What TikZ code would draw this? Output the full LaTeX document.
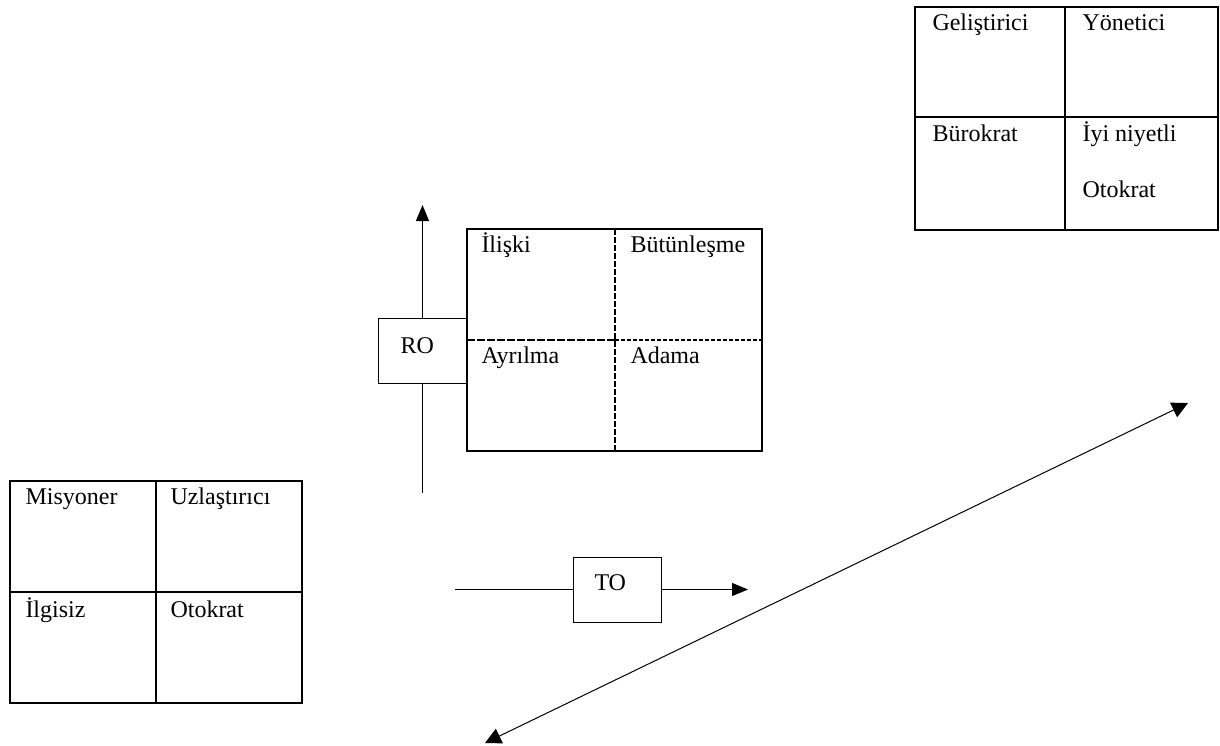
\documentclass[tikz,border=0pt]{standalone}
\usepackage{fontspec}
\setmainfont{Liberation Serif}
\usetikzlibrary{arrows.meta}

\tikzset{
  cell/.style={anchor=base west,inner sep=0pt,font=\fontsize{12}{14}\selectfont},
  grid/.style={line width=1pt},
  tip/.style={-{Triangle[length=8pt,width=6.5pt]}}
}

\begin{document}
\begin{tikzpicture}[x=0.5pt,y=-0.5pt,line width=0.5pt]
\useasboundingbox (0,0) rectangle (1220,745);
% top right box
\draw[grid] (915,7) rectangle (1218,230) (1065,7) -- (1065,230) (915,117) -- (1218,117);
\node[cell] (gel) at (932,30) {Geliştirici};
\node[cell] (yon) at (1082,30) {Yönetici};
\node[cell] (bur) at (932,141) {Bürokrat};
\node[cell] (iyi) at (1082,141) {İyi niyetli};
\node[cell] (oto1) at (1082,197) {Otokrat};
% middle box
\draw[grid] (467,229) rectangle (762,451);
\draw[grid,dash pattern=on 3pt off 1pt] (615,229) -- (615,451);
\draw[grid,dash pattern=on 4pt off 1pt] (467,340) -- (615,340);
\draw[grid,dash pattern=on 2pt off 1pt] (615,340) -- (762,340);
\node[cell] (ili) at (481,252) {İlişki};
\node[cell] (but) at (630,252) {Bütünleşme};
\node[cell] (ayr) at (481,363) {Ayrılma};
\node[cell] (ada) at (630,363) {Adama};
% RO axis
\node[draw,minimum width=44.5pt,minimum height=32.5pt,inner sep=0pt] (ro) at (422.5,350.5) {};
\node[cell] (rotxt) at (400,353) {RO};
\coordinate (roTop) at (ro.north |- 0,205);
\coordinate (roBot) at (ro.south |- 0,493);
\draw[tip] (ro.north) -- (roTop);
\draw (roBot) -- (ro.south);
% bottom left box
\draw[grid] (10,481) rectangle (302,703) (156,481) -- (156,703) (10,592) -- (302,592);
\node[cell] (mis) at (25,504) {Misyoner};
\node[cell] (uzl) at (170,504) {Uzlaştırıcı};
\node[cell] (ilg) at (25,617) {İlgisiz};
\node[cell] (oto2) at (170,617) {Otokrat};
% TO axis
\node[draw,minimum width=44pt,minimum height=32.5pt,inner sep=0pt] (to) at (617,589.5) {};
\node[cell] (totxt) at (594,590) {TO};
\coordinate (toLeft) at (455,0 |- to.west);
\coordinate (toRight) at (748,0 |- to.east);
\draw (toLeft) -- (to.west);
\draw[tip] (to.east) -- (toRight);
% diagonal
\coordinate (dA) at (485,743);
\coordinate (dB) at (1188,403);
\draw[{Triangle[length=8pt,width=8pt]}-{Triangle[length=8pt,width=8pt]}] (dA) -- (dB);
\end{tikzpicture}
\end{document}
